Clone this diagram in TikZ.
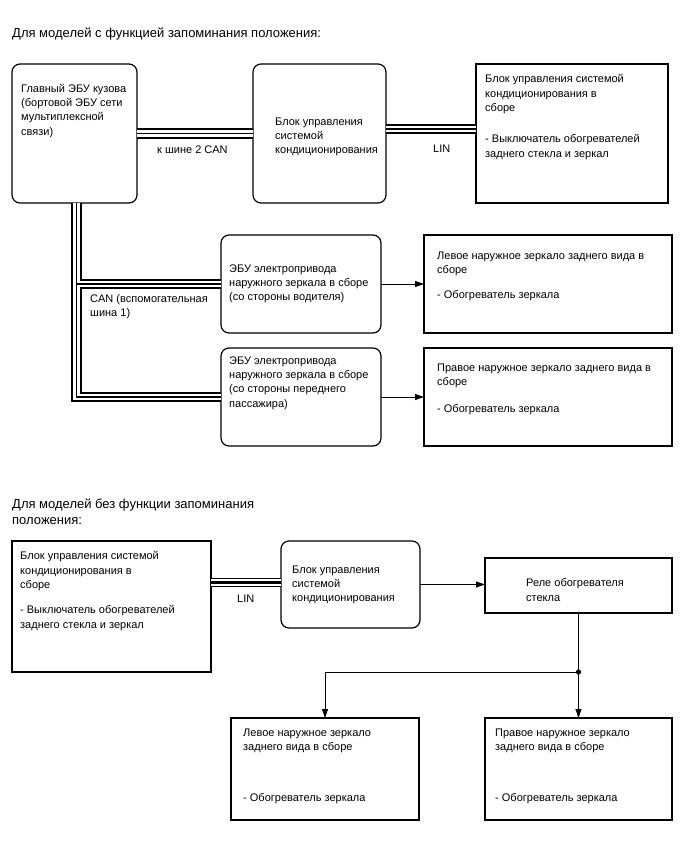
\documentclass[tikz,border=0pt]{standalone}
\usepackage{fontspec}
\setmainfont{Liberation Sans}
\usetikzlibrary{arrows.meta}
\begin{document}
\begin{tikzpicture}[x=1pt,y=-1pt,
  sqbox/.style={draw,line width=1.2pt,minimum width=#1,anchor=north west,inner sep=0pt,outer sep=0pt},
  rbox/.style={sqbox=#1,rounded corners=8pt},
  txt/.style={anchor=north west,align=left,inner sep=0pt,font=\fontsize{11}{14.3}\selectfont,
    execute at begin node={\rule{0pt}{11pt}}},
  ttl/.style={anchor=north west,align=left,inner sep=0pt,font=\fontsize{13}{16}\selectfont,
    execute at begin node={\rule{0pt}{13pt}}},
  canout/.style={line width=10.5pt},
  canmid/.style={white,line width=6.5pt},
  canin/.style={line width=1.8pt},
  linout/.style={line width=9.5pt},
  linmid/.style={white,line width=6.5pt},
  linin/.style={line width=2.6pt},
  arr/.style={line width=0.8pt,-{Triangle[length=9pt,width=6pt]}}
]
\useasboundingbox (0,0) rectangle (688,852);

% ---------- section 1 ----------
\node[ttl] (t1) at (12,24) {Для моделей с функцией запоминания положения:};

\node[rbox=125pt,minimum height=139pt] (ecu) at (12,64) {};
\node[rbox=133pt,minimum height=139pt] (acu) at (253,64) {};
\node[sqbox=192pt,minimum height=139pt] (acs) at (476,64) {};
\node[rbox=160pt,minimum height=98pt] (decu) at (221,235) {};
\node[sqbox=248pt,minimum height=98pt] (lm) at (424,235) {};
\node[rbox=160pt,minimum height=98pt] (pecu) at (221,348) {};
\node[sqbox=248pt,minimum height=98pt] (rm) at (424,348) {};

\node[txt] (ecuT) at (21,84) {Главный ЭБУ кузова\\(бортовой ЭБУ сети\\мультиплексной\\связи)};
\node[txt] (acuT) at (275,117.5) {Блок управления\\системой\\кондиционирования};
\node[txt] (acsT) at (485,74.5) {Блок управления системой\\кондиционирования в\\сборе};
\node[txt] (acsT2) at (485,134.5) {- Выключатель обогревателей\\заднего стекла и зеркал};
\node[txt] (decuT) at (229,264.5) {ЭБУ электропривода\\наружного зеркала в сборе\\(со стороны водителя)};
\node[txt] (lmT) at (437,251.5) {Левое наружное зеркало заднего вида в\\сборе};
\node[txt] (lmT2) at (437,287) {- Обогреватель зеркала};
\node[txt] (pecuT) at (229,356.5) {ЭБУ электропривода\\наружного зеркала в сборе\\(со стороны переднего\\пассажира)};
\node[txt] (rmT) at (437,363.5) {Правое наружное зеркало заднего вида в\\сборе};
\node[txt] (rmT2) at (437,401.5) {- Обогреватель зеркала};

\node[txt] (can2L) at (157,142) {к шине 2 CAN};
\node[txt] (linL) at (433,141) {LIN};
\node[txt] (can1L) at (90,294) {CAN (вспомогательная\\шина 1)};

% CAN bus 2
\draw[canout] (ecu.east) -- (acu.west);
\draw[canmid] (ecu.east) -- (acu.west);
\draw[canin] (ecu.east) -- (acu.west);
% LIN bus (top)
\draw[linout] ([yshift=4.7pt]acu.east) -- ([yshift=4.7pt]acu.east -| acs.west);
\draw[linmid] ([yshift=4.7pt]acu.east) -- ([yshift=4.7pt]acu.east -| acs.west);
\draw[linin] ([yshift=4.7pt]acu.east) -- ([yshift=4.7pt]acu.east -| acs.west);
% CAN sub-bus 1
\coordinate (cantop) at ([xshift=64.5pt]ecu.south west);
\draw[canout] (cantop) |- (pecu.west) (cantop |- decu.west) -- (decu.west);
\draw[canmid] (cantop) |- (pecu.west) (cantop |- decu.west) -- (decu.west);
\draw[canin] (cantop) |- (pecu.west) (cantop |- decu.west) -- (decu.west);

\draw[arr] (decu.east) -- (lm.west);
\draw[arr] (pecu.east) -- (rm.west);

% ---------- section 2 ----------
\node[ttl] (t2) at (12,498.5) {Для моделей без функции запоминания\\положения:};

\node[sqbox=199pt,minimum height=131pt] (acs2) at (12,541) {};
\node[rbox=139pt,minimum height=87pt] (acu2) at (281,541) {};
\node[sqbox=187pt,minimum height=55pt] (relay) at (485,558) {};
\node[sqbox=188pt,minimum height=102pt] (lm2) at (231,718) {};
\node[sqbox=187pt,minimum height=102pt] (rm2) at (485,718) {};

\node[txt] (acs2T) at (20,551.5) {Блок управления системой\\кондиционирования в\\сборе};
\node[txt] (acs2T2) at (20,605.5) {- Выключатель обогревателей\\заднего стекла и зеркал};
\node[txt] (acu2T) at (292,565.5) {Блок управления\\системой\\кондиционирования};
\node[txt] (relayT) at (526,578.5) {Реле обогревателя\\стекла};
\node[txt] (lm2T) at (243,728.5) {Левое наружное зеркало\\заднего вида в сборе};
\node[txt] (lm2T2) at (243,790.5) {- Обогреватель зеркала};
\node[txt] (rm2T) at (495,728.5) {Правое наружное зеркало\\заднего вида в сборе};
\node[txt] (rm2T2) at (495,790.5) {- Обогреватель зеркала};
\node[txt] (lin2L) at (237,591) {LIN};

% LIN bus (bottom)
\draw[linout] ([yshift=2pt]acu2.west -| acs2.east) -- ([yshift=2pt]acu2.west);
\draw[linmid] ([yshift=2pt]acu2.west -| acs2.east) -- ([yshift=2pt]acu2.west);
\draw[linin] ([yshift=2pt]acu2.west -| acs2.east) -- ([yshift=2pt]acu2.west);

\draw[arr] (acu2.east) -- (acu2.east -| relay.west);

\coordinate (jn) at (relay.south |- 0,672);
\draw[line width=0.8pt] (relay.south) -- (jn);
\draw[arr] (jn) -- (rm2.north);
\draw[arr] (jn) -| (lm2.north);
\fill (jn) circle (2.6pt);
\end{tikzpicture}
\end{document}
